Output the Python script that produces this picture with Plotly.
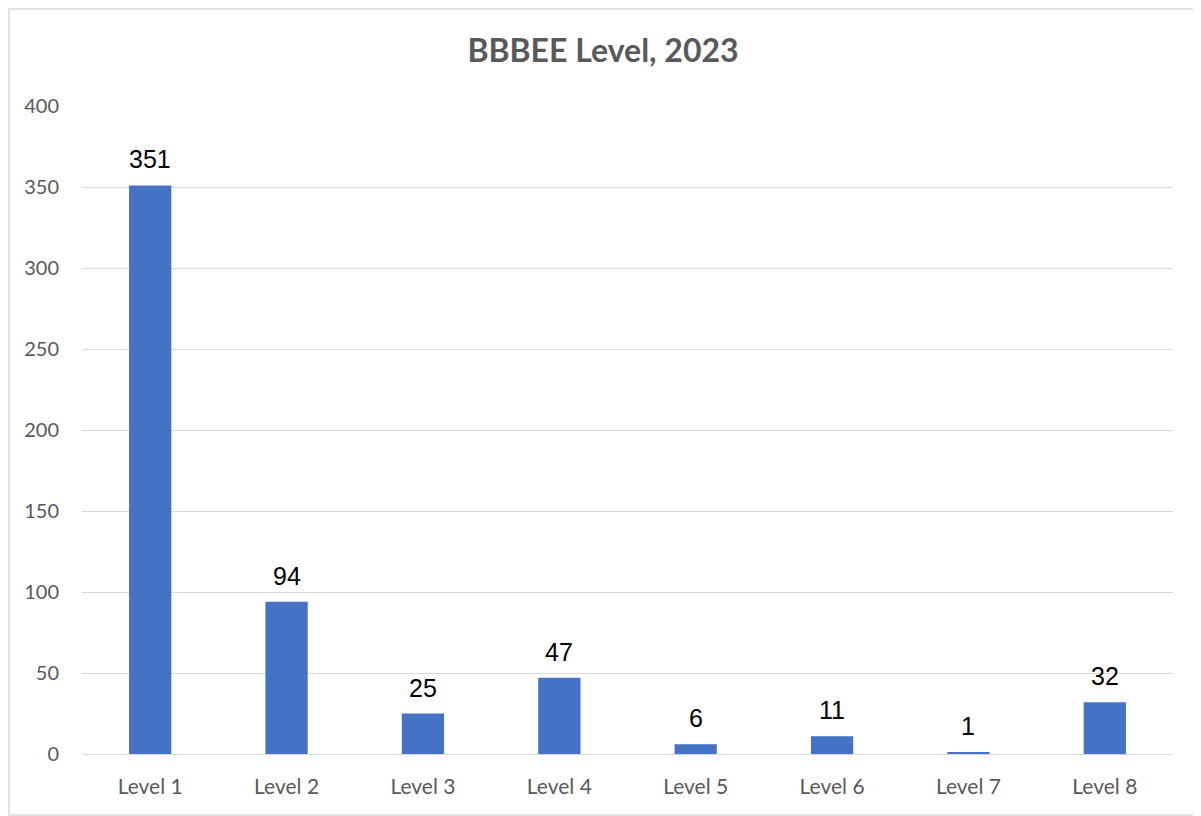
import plotly.graph_objects as go

categories = ["Level 1", "Level 2", "Level 3", "Level 4", "Level 5", "Level 6", "Level 7", "Level 8"]
values = [351, 94, 25, 47, 6, 11, 1, 32]
y_ticks = [0, 50, 100, 150, 200, 250, 300, 350, 400]

fig = go.Figure()
fig.add_trace(go.Bar(x=categories, y=values, marker=dict(color="#4472C4", line=dict(width=0)),
                     hoverinfo="x+y"))

for c, v in zip(categories, values):
    fig.add_annotation(x=c, y=v, text=str(v), showarrow=False, yanchor="bottom", yshift=10,
                       font=dict(family="Liberation Sans, Arial", size=25, color="#000000"))

# page body has an 8px margin; figure is sized so the plot area lands where the reference has it
W, H = 1193, 808
L, R, T, B = 74, 28, 98, 62
pw, ph = W - L - R, H - T - B

fig.update_layout(
    width=W, height=H,
    margin=dict(l=L, r=R, t=T, b=B),
    paper_bgcolor="white", plot_bgcolor="white",
    bargap=0.69,
    showlegend=False,
    title=dict(text="<b>BBBEE Level, 2023</b>", x=(603 - 8) / W, xanchor="center",
               y=(816 - 51) / H, yanchor="middle",
               font=dict(family="Lato, Open Sans", size=32, color="#595959")),
    xaxis=dict(showgrid=False, showline=False, ticks="", ticklabelstandoff=18,
               tickfont=dict(family="Lato, Open Sans", size=21, color="#595959")),
    yaxis=dict(range=[0, 400], tickvals=y_ticks, showgrid=True, gridcolor="#D9D9D9", gridwidth=1.3,
               zeroline=True, zerolinecolor="#D9D9D9", zerolinewidth=1.3, showline=False, ticks="",
               ticklabelstandoff=22,
               tickfont=dict(family="Lato, Open Sans", size=20, color="#595959")),
    shapes=[dict(type="rect", xref="paper", yref="paper",
                 x0=(1 - L) / pw, x1=(W + 20 - L) / pw, y0=-(807 - (H - B)) / ph, y1=1 + (T - 1) / ph,
                 line=dict(color="#D9D9D9", width=1.5), fillcolor="rgba(0,0,0,0)", layer="below")],
)

fig.write_html("out.html")
